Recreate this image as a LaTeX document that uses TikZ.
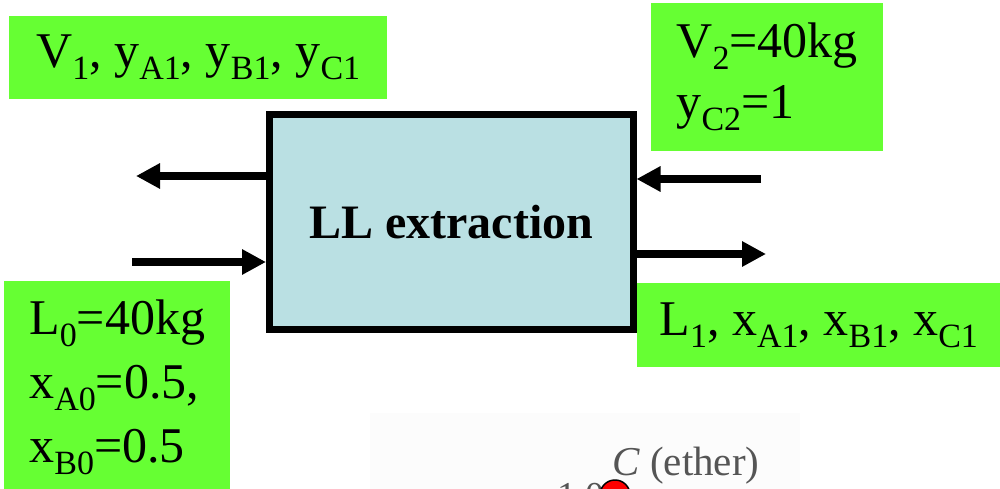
\documentclass[tikz,border=0pt]{standalone}
\usepackage{fontspec}
\setmainfont{Liberation Serif}
\usetikzlibrary{arrows.meta}
\definecolor{grn}{RGB}{102,255,51}
\definecolor{boxblue}{RGB}{186,224,227}
\definecolor{scan}{RGB}{252,252,252}
\definecolor{scantext}{RGB}{85,85,85}
\newcommand\lowsub[1]{\raisebox{-12pt}{\fontsize{34}{34}\selectfont #1}}
\tikzset{
  greenbox/.style={fill=grn, draw=none, inner sep=0pt, align=left,
    font=\fontsize{50}{64}\selectfont},
  procbox/.style={draw=black, line width=7pt, fill=boxblue, inner sep=0pt,
    font=\fontsize{48}{58}\selectfont\bfseries},
  flow/.style={line width=8pt, -{Triangle[length=24pt,width=24pt]}}
}
\begin{document}
\begin{tikzpicture}[x=1pt,y=-1pt]
\useasboundingbox (0,0) rectangle (1000,489);
\clip (0,0) rectangle (1000,489);
% faint scanned figure fragment
\fill[scan] (370,413) rectangle (800,495);
\node[text=scantext, font=\fontsize{41}{41}\selectfont, anchor=base west, inner sep=0pt] (ether) at (612,475) {\textit{C} (ether)};
\node[text=scantext, font=\fontsize{38}{38}\selectfont, anchor=base west, inner sep=0pt] (one) at (557,508) {1.0};
\node[circle, fill=red, draw=black, line width=1.5pt, minimum size=30pt, inner sep=0pt] (dot) at (615,495) {};
% process box
\node[procbox, minimum width=363.5pt, minimum height=214pt] (box) at (451.25,222) {\raisebox{-3pt}{LL extraction}};
% labels
\node[greenbox, anchor=north west, minimum width=378pt, minimum height=83pt] (v1) at (9,16)
  {V\lowsub{1}, y\lowsub{A1}, y\lowsub{B1}, y\lowsub{C1}};
\node[greenbox, anchor=north west, minimum width=232pt, minimum height=148pt] (v2) at (651,3)
  {\raisebox{-3pt}{V\lowsub{2}=40kg}\\ y\lowsub{C2}=1};
\node[greenbox, anchor=north west, minimum width=226pt, minimum height=212pt] (l0) at (4,281)
  {L\lowsub{0}=40kg\\ x\lowsub{A0}=0.5,\\ x\lowsub{B0}=0.5};
\node[greenbox, anchor=north west, minimum width=363pt, minimum height=84pt] (l1) at (637,283)
  {L\lowsub{1}, x\lowsub{A1}, x\lowsub{B1}, x\lowsub{C1}};
% stream end points
\coordinate (v1end) at (136,176);
\coordinate (l0start) at (132,262);
\coordinate (v2start) at (761,179);
\coordinate (l1end) at (766,254);
% streams
\draw[flow] (box.west |- v1end) -- (v1end);
\draw[flow] (l0start) -- (box.west |- l0start);
\draw[flow] (v2start) -- (box.east |- v2start);
\draw[flow] (box.east |- l1end) -- (l1end);
\end{tikzpicture}
\end{document}
